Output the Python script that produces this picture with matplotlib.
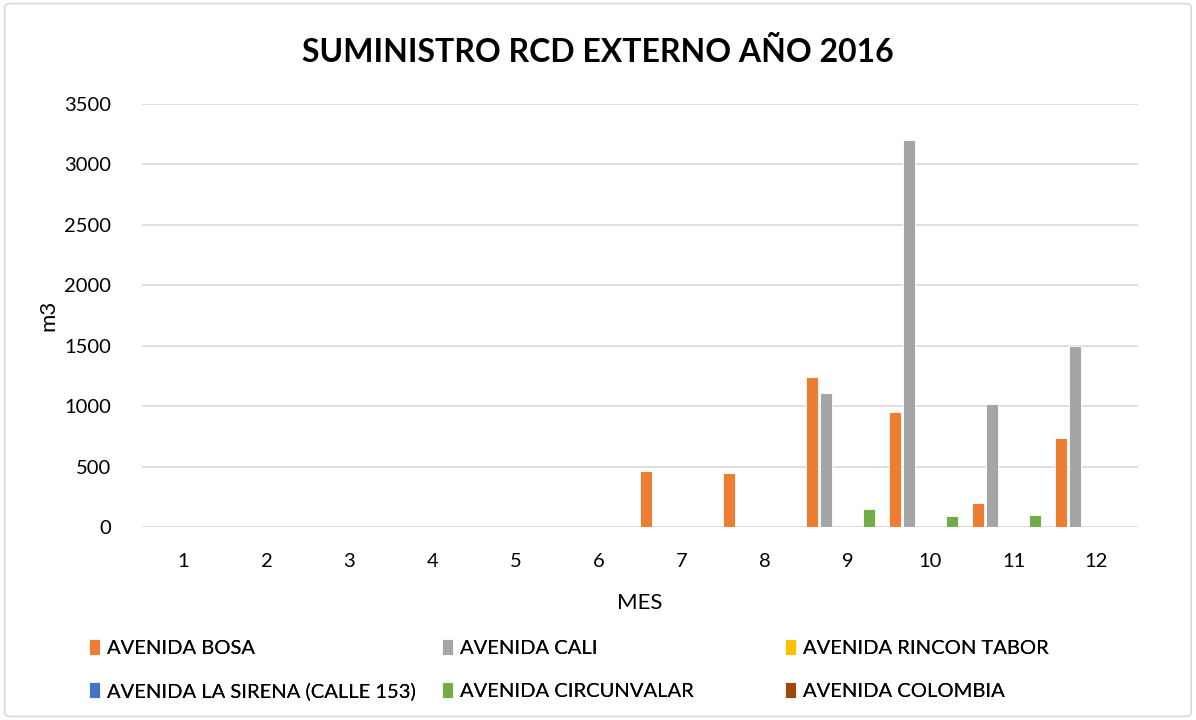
import numpy as np
import matplotlib.pyplot as plt
from matplotlib.patches import FancyBboxPatch

plt.rcParams['font.family'] = ['Lato', 'DejaVu Sans']

# Datos
meses = [1, 2, 3, 4, 5, 6, 7, 8, 9, 10, 11, 12]
series = ['AVENIDA BOSA', 'AVENIDA CALI', 'AVENIDA RINCON TABOR',
          'AVENIDA LA SIRENA (CALLE 153)', 'AVENIDA CIRCUNVALAR', 'AVENIDA COLOMBIA']
bosa = [0, 0, 0, 0, 0, 0, 460, 450, 1245, 955, 195, 740]
cali = [0, 0, 0, 0, 0, 0, 0, 0, 1105, 3205, 1020, 1500]
rincon_tabor = [0] * 12
la_sirena = [0] * 12
circunvalar = [0, 0, 0, 0, 0, 0, 0, 0, 152, 93, 98, 0]
colombia = [0] * 12
valores = [bosa, cali, rincon_tabor, la_sirena, circunvalar, colombia]
colores = ['#ED7D31', '#A5A5A5', '#FFC000', '#4472C4', '#70AD47', '#9E480E']

fig = plt.figure(figsize=(11.96, 7.2), dpi=100)
ax = fig.add_axes([0.1187, 0.268, 0.8328, 0.5876])

x = np.arange(len(meses))
paso = 0.172
ancho = 0.145
barras = []
for i, (nombre, vals, c) in enumerate(zip(series, valores, colores)):
    h = np.array(vals, dtype=float)
    b = ax.bar(x + (i - 2.5) * paso, h, ancho, color=c, label=nombre,
               edgecolor='white', linewidth=0.6, zorder=3)
    barras.append(b)

ax.set_xlim(-0.5, len(meses) - 0.5)
ax.set_ylim(0, 3500)
ax.set_yticks(np.arange(0, 3501, 500))
ax.set_xticks(x)
ax.set_xticklabels([str(m) for m in meses])
ax.grid(axis='y', color='#D9D9D9', linewidth=1.2, zorder=0)
for s in ax.spines.values():
    s.set_visible(False)
ax.tick_params(length=0, labelsize=14.5, colors='#000000')
ax.tick_params(axis='y', pad=22)
ax.tick_params(axis='x', pad=19)

ax.set_xlabel('MES', fontsize=16, labelpad=16)
ax.set_ylabel('m3', fontsize=16, labelpad=4)
fig.text(0.5, 0.928, 'SUMINISTRO RCD EXTERNO AÑO 2016', ha='center', va='center',
         fontsize=23, fontweight='bold')

# Leyenda en tres columnas
col_x = [0.066, 0.361, 0.648]
orden = [(0, 3), (1, 4), (2, 5)]
for cx, (a, b) in zip(col_x, orden):
    leg = fig.legend([barras[a], barras[b]], [series[a], series[b]],
                     loc='upper left', bbox_to_anchor=(cx, 0.127), frameon=False,
                     fontsize=14.5, handlelength=0.55, handleheight=0.85,
                     handletextpad=0.35, labelspacing=1.25, borderpad=0)
    fig.add_artist(leg)

# Marco exterior
fig.patches.append(FancyBboxPatch((0.004, 0.005), 0.992, 0.99, boxstyle='round,pad=0,rounding_size=0.005',
                                  transform=fig.transFigure, fill=False,
                                  edgecolor='#D9D9D9', linewidth=1.2))

plt.savefig('out.png', dpi=100)
